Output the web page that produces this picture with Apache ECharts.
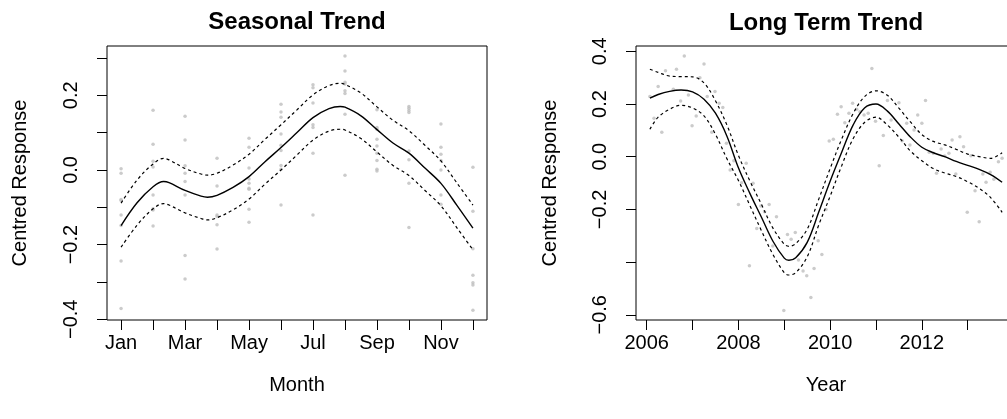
<!DOCTYPE html>
<html><head><meta charset="utf-8">
<script src="https://cdn.jsdelivr.net/npm/echarts@6/dist/echarts.min.js"></script>
<style>html,body{margin:0;padding:0;background:#fff}#c{width:1007px;height:419px}</style>
</head><body><div id="c"></div>
<script>
// ---------- Seasonal panel data ----------
const monthNames = ['Jan','Feb','Mar','Apr','May','Jun','Jul','Aug','Sep','Oct','Nov','Dec'];
const monthTicks = [1,2,3,4,5,6,7,8,9,10,11,12];
const monthLabelTicks = [1,3,5,7,9,11];
const seasonalYTicks = [-0.4,-0.3,-0.2,-0.1,0,0.1,0.2,0.3];
const seasonalYLabels = [-0.4,-0.2,0,0.2];

const seasonalObs = [
  [1,0.003],[1,-0.009],[1,-0.079],[1,-0.082],[1,-0.121],[1,-0.149],[1,-0.244],[1,-0.371],
  [2,0.160],[2,0.069],[2,0.023],[2,0.008],[2,-0.067],[2,-0.104],[2,-0.107],[2,-0.150],
  [3,0.144],[3,0.080],[3,0.011],[3,-0.009],[3,-0.031],[3,-0.067],[3,-0.229],[3,-0.292],
  [4,0.031],[4,-0.043],[4,-0.121],[4,-0.125],[4,-0.147],[4,-0.212],
  [5,0.085],[5,0.061],[5,0.005],[5,-0.024],[5,-0.036],[5,-0.049],[5,-0.052],[5,-0.105],[5,-0.140],
  [6,0.176],[6,0.155],[6,0.141],[6,0.096],[6,0.066],[6,0.052],[6,0.012],[6,0.002],[6,-0.094],
  [7,0.228],[7,0.220],[7,0.179],[7,0.121],[7,0.114],[7,0.045],[7,-0.121],
  [8,0.305],[8,0.265],[8,0.235],[8,0.230],[8,0.212],[8,0.205],[8,0.149],[8,-0.014],
  [9,0.161],[9,0.114],[9,0.109],[9,0.082],[9,0.064],[9,0.045],[9,0.025],[9,0.002],[9,-0.003],
  [10,0.170],[10,0.165],[10,0.159],[10,0.154],[10,0.051],[10,0.027],[10,-0.036],[10,-0.154],
  [11,0.123],[11,0.061],[11,0.042],[11,0.025],[11,0.000],[11,-0.067],[11,-0.092],
  [12,0.007],[12,-0.111],[12,-0.211],[12,-0.282],[12,-0.302],[12,-0.308],[12,-0.376]
];

const seasonalX = [1,1.5,2,2.33,2.5,3,3.5,3.7,4,4.5,5,5.5,6,6.5,7,7.5,7.85,8,8.5,9,9.5,10,10.5,11,11.5,12];
const seasonalFit = [-0.149,-0.088,-0.045,-0.031,-0.034,-0.055,-0.070,-0.073,-0.068,-0.047,-0.018,0.022,0.060,0.100,0.140,0.164,0.170,0.168,0.145,0.108,0.072,0.045,0.005,-0.036,-0.095,-0.156];
const seasonalUpper = [-0.089,-0.027,0.016,0.031,0.027,0.004,-0.011,-0.014,-0.009,0.013,0.042,0.082,0.121,0.161,0.201,0.226,0.232,0.229,0.206,0.169,0.133,0.105,0.066,0.024,-0.035,-0.094];
const seasonalLower = [-0.207,-0.148,-0.104,-0.090,-0.094,-0.115,-0.130,-0.134,-0.128,-0.107,-0.078,-0.038,0.000,0.040,0.080,0.104,0.109,0.107,0.084,0.048,0.012,-0.015,-0.055,-0.096,-0.155,-0.214];

// ---------- Long term panel data ----------
const yearTicks = [2006,2007,2008,2009,2010,2011,2012,2013];
const yearLabelTicks = [2006,2008,2010,2012];
const trendYTicks = [-0.6,-0.4,-0.2,0,0.2,0.4];
const trendYLabels = [-0.6,-0.2,0,0.2,0.4];

const trendObs = [
  [2006.07,0.228],[2006.16,0.146],[2006.25,0.266],[2006.33,0.093],[2006.41,0.326],[2006.58,0.256],
  [2006.65,0.332],[2006.74,0.211],[2006.82,0.382],[2006.91,0.234],[2006.99,0.117],[2007.08,0.154],
  [2007.16,0.300],[2007.25,0.352],[2007.32,0.228],[2007.42,0.093],[2007.49,0.247],[2007.58,0.203],
  [2007.66,0.187],[2007.74,0.051],[2007.82,-0.050],[2007.90,-0.015],[2008.00,-0.181],[2008.07,-0.099],
  [2008.17,-0.025],[2008.24,-0.414],[2008.32,-0.101],[2008.40,-0.272],[2008.49,-0.187],[2008.57,-0.209],
  [2008.67,-0.181],[2008.75,-0.339],[2008.83,-0.228],[2008.99,-0.584],[2009.07,-0.295],[2009.15,-0.313],
  [2009.24,-0.288],[2009.31,-0.392],[2009.41,-0.434],[2009.49,-0.452],[2009.58,-0.534],[2009.65,-0.424],
  [2009.74,-0.319],[2009.82,-0.371],[2009.91,-0.200],[2009.98,0.060],[2010.07,0.066],[2010.16,0.161],
  [2010.24,0.190],[2010.32,0.129],[2010.41,0.165],[2010.49,0.203],[2010.58,0.180],[2010.65,0.171],
  [2010.74,0.158],[2010.83,0.165],[2010.91,0.335],[2010.99,0.135],[2011.07,-0.034],[2011.16,0.080],
  [2011.25,0.213],[2011.33,0.139],[2011.50,0.205],[2011.57,0.061],[2011.67,0.127],[2011.74,0.044],
  [2011.83,0.101],[2011.91,0.158],[2012.00,0.127],[2012.08,0.213],[2012.16,0.017],[2012.25,0.013],
  [2012.32,-0.063],[2012.42,0.029],[2012.50,0.003],[2012.59,0.013],[2012.66,0.063],[2012.74,-0.066],
  [2012.83,0.076],[2012.91,0.038],[2012.99,-0.211],[2013.07,0.004],[2013.16,-0.129],[2013.25,-0.247],
  [2013.33,-0.066],[2013.40,-0.097],[2013.49,-0.059],[2013.57,-0.086],[2013.67,-0.019],[2013.75,-0.006]
];

const trendX = [2006.07,2006.25,2006.5,2006.75,2007.0,2007.25,2007.5,2007.75,2008.0,2008.25,2008.5,2008.75,2009.0,2009.1,2009.25,2009.5,2009.75,2010.0,2010.25,2010.5,2010.75,2011.0,2011.25,2011.5,2011.75,2012.0,2012.25,2012.5,2012.75,2013.0,2013.25,2013.5,2013.75];
const trendFit = [0.222,0.236,0.248,0.253,0.246,0.218,0.165,0.078,-0.042,-0.139,-0.229,-0.320,-0.385,-0.393,-0.383,-0.325,-0.211,-0.093,0.016,0.120,0.185,0.200,0.173,0.124,0.075,0.036,0.015,0.000,-0.018,-0.033,-0.048,-0.068,-0.097];
const trendUpper = [0.332,0.320,0.306,0.304,0.303,0.280,0.212,0.120,0.005,-0.092,-0.180,-0.270,-0.332,-0.340,-0.330,-0.275,-0.162,-0.045,0.066,0.163,0.228,0.250,0.233,0.184,0.132,0.084,0.058,0.045,0.028,0.010,0.000,-0.006,0.015];
const trendLower = [0.104,0.150,0.180,0.195,0.185,0.155,0.085,-0.008,-0.090,-0.185,-0.280,-0.370,-0.440,-0.449,-0.440,-0.380,-0.260,-0.150,-0.035,0.068,0.130,0.150,0.120,0.074,0.022,-0.015,-0.045,-0.062,-0.075,-0.095,-0.120,-0.155,-0.211];

// ---------- build ----------
const FONT = 'Liberation Sans, Arial, Helvetica, sans-serif';
const zip = (xs, ys) => xs.map((x, i) => [x, ys[i]]);
const fmtNum = v => (v < 0 ? '\u2212' : '') + Math.abs(v).toFixed(1);

function valueAxisX(gi, min, max, ticks, labels, fmt, name) {
  return {
    type: 'value', gridIndex: gi, min, max, position: 'bottom',
    axisLine: { show: false, onZero: false }, splitLine: { show: false },
    axisTick: { show: true, length: 10, customValues: ticks, lineStyle: { color: '#000', width: 1 } },
    axisLabel: { customValues: labels, formatter: fmt, color: '#000', fontSize: 20, fontFamily: FONT,
                 margin: 23, verticalAlign: 'middle', align: 'center' },
    name, nameLocation: 'middle', nameGap: 65,
    nameTextStyle: { color: '#000', fontSize: 20, fontFamily: FONT, verticalAlign: 'middle', align: 'center' }
  };
}
function valueAxisY(gi, min, max, ticks, labels, gap) {
  return {
    type: 'value', gridIndex: gi, min, max, position: 'left',
    axisLine: { show: false, onZero: false }, splitLine: { show: false },
    axisTick: { show: true, length: 10, customValues: ticks, lineStyle: { color: '#000', width: 1 } },
    axisLabel: { customValues: labels, formatter: fmtNum, rotate: 90, color: '#000', fontSize: 20, fontFamily: FONT,
                 margin: 36, verticalAlign: 'middle', align: 'center' },
    name: 'Centred Response', nameLocation: 'middle', nameGap: gap, nameRotate: 90,
    nameTextStyle: { color: '#000', fontSize: 20, fontFamily: FONT, verticalAlign: 'middle', align: 'center' }
  };
}
const pts = (xi, yi, data) => ({ type: 'scatter', xAxisIndex: xi, yAxisIndex: yi, data, symbol: 'circle',
  symbolSize: 3.5, itemStyle: { color: '#bebebe' }, silent: true, z: 1 });
const line = (xi, yi, data, dashed) => ({ type: 'line', xAxisIndex: xi, yAxisIndex: yi, data, showSymbol: false,
  smooth: 0.35, lineStyle: { color: '#000', width: dashed ? 1.2 : 1.4, type: dashed ? [3, 3] : 'solid' }, silent: true, z: 3 });

const chart = echarts.init(document.getElementById('c'), null, { renderer: 'canvas' });
chart.setOption({
  animation: false,
  backgroundColor: '#fff',
  grid: [
    { left: 107, top: 46, width: 380, height: 274, show: true, borderColor: '#000', borderWidth: 1,
      backgroundColor: 'transparent', containLabel: false, outerBoundsMode: 'none' },
    { left: 636, top: 46, width: 380, height: 274, show: true, borderColor: '#000', borderWidth: 1,
      backgroundColor: 'transparent', containLabel: false, outerBoundsMode: 'none' }
  ],
  xAxis: [
    valueAxisX(0, 0.56, 12.44, monthTicks, monthLabelTicks, v => monthNames[Math.round(v) - 1], 'Month'),
    valueAxisX(1, 2005.767, 2014.053, yearTicks, yearLabelTicks, v => String(Math.round(v)), 'Year')
  ],
  yAxis: [
    valueAxisY(0, -0.402, 0.332, seasonalYTicks, seasonalYLabels, 86.5),
    valueAxisY(1, -0.6197, 0.4201, trendYTicks, trendYLabels, 86)
  ],
  graphic: [
    { type: 'text', x: 297, y: 22.5, style: { text: 'Seasonal Trend', font: 'bold 24px ' + FONT, fill: '#000', align: 'center', verticalAlign: 'middle' } },
    { type: 'text', x: 826, y: 23, style: { text: 'Long Term Trend', font: 'bold 24px ' + FONT, fill: '#000', align: 'center', verticalAlign: 'middle' } }
  ],
  series: [
    pts(0, 0, seasonalObs),
    line(0, 0, zip(seasonalX, seasonalFit), false),
    line(0, 0, zip(seasonalX, seasonalUpper), true),
    line(0, 0, zip(seasonalX, seasonalLower), true),
    pts(1, 1, trendObs),
    line(1, 1, zip(trendX, trendFit), false),
    line(1, 1, zip(trendX, trendUpper), true),
    line(1, 1, zip(trendX, trendLower), true)
  ]
});
</script></body></html>
